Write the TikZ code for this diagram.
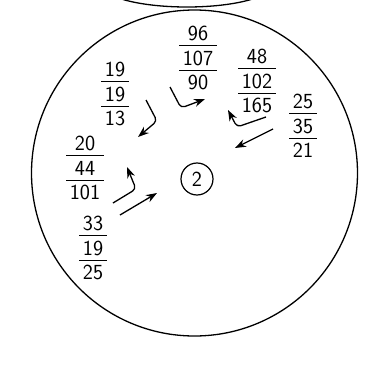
\documentclass[tikz,border=0pt]{standalone}
\usepackage{tikz}
\usetikzlibrary{arrows.meta}
\setlength{\arrayrulewidth}{1.2pt}
% three numbers stacked, with bars between
\newcommand\stk[3]{\begin{tabular}{@{\,}c@{\,}}\rule{0pt}{21.5pt}#1\\[-3pt]\hline\rule{0pt}{19pt}#2\\[-3pt]\hline\rule{0pt}{19pt}#3\end{tabular}}

\begin{document}
\begin{tikzpicture}[x=1pt,y=-1pt,>={Stealth[length=11pt,width=8pt]},
  frac/.style={font=\sffamily\fontsize{21.5}{25}\selectfont,inner sep=0pt},
  arr/.style={->,line width=1.3pt,rounded corners=4pt}]
\useasboundingbox (0,0) rectangle (370,367);
\begin{scope}
\clip (0,0) rectangle (370,367);
\draw[line width=1.3pt] (187,-15) ellipse [x radius=85pt,y radius=22pt];
\end{scope}
\node[draw,circle,line width=1.3pt,minimum size=326pt] (outer) at (194.5,173) {};
\node[draw,circle,line width=1.2pt,minimum size=32pt,inner sep=0pt,font=\sffamily\fontsize{21.5}{25}\selectfont] (two) at (197,179) {2};
%% stacks
\node[frac] (s96) at (198,58) {\stk{96}{107}{90}};
\node[frac] (s48) at (257,81) {\stk{48}{102}{165}};
\node[frac] (s25) at (303,126) {\stk{25}{35}{21}};
\node[frac] (s19) at (115,94) {\stk{19}{19}{13}};
\node[frac] (s20) at (85,168) {\stk{20}{44}{101}};
\node[frac] (s33) at (93,248) {\stk{33}{19}{25}};
%% arrows
\draw[arr] (146,100) -- (157,121) -- (138,137);
\draw[arr] (170,87) -- (181,108) -- (205,99);
\draw[arr] (266,117) -- (237,127) -- (228,110);
\draw[arr] (273,129) -- (235,148);
\draw[arr] (113,203) -- (136,189) -- (127,167);
\draw[arr] (120,215) -- (157,193);
\end{tikzpicture}
\end{document}
